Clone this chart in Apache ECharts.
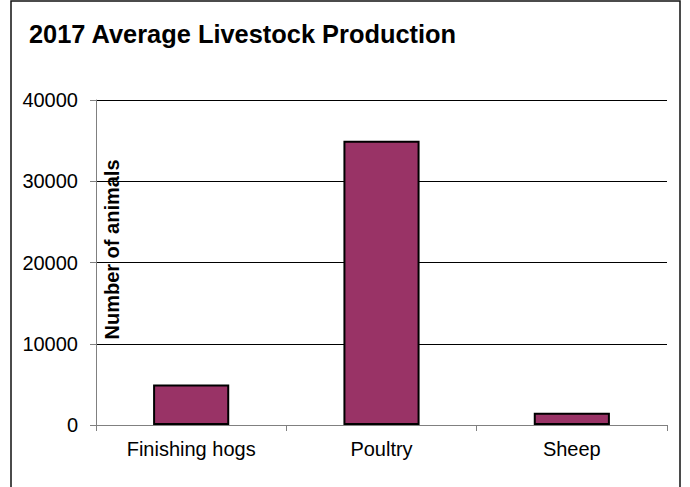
<!DOCTYPE html>
<html>
<head>
<meta charset="utf-8">
<script src="https://cdn.jsdelivr.net/npm/echarts@6/dist/echarts.min.js"></script>
<style>
html,body{margin:0;padding:0;background:#fff;}
#chart{width:690px;height:487px;}
</style>
</head>
<body>
<div id="chart"></div>
<script>
const titleText = '2017 Average Livestock Production';
const yAxisName = 'Number of animals';
const categories = ['Finishing hogs', 'Poultry', 'Sheep'];
const values = [5000, 35000, 1500];
const yTicks = [0, 10000, 20000, 30000, 40000];

const chart = echarts.init(document.getElementById('chart'), null, {renderer: 'svg'});
const font = '"Liberation Sans", Arial, sans-serif';
chart.setOption({
  backgroundColor: '#fff',
  animation: false,
  title: {
    text: titleText,
    left: 24, top: 16,
    textStyle: {fontFamily: font, fontSize: 25.4, fontWeight: 'bold', color: '#000'}
  },
  graphic: [{
    type: 'rect', z: -1, silent: true,
    shape: {x: 11, y: 1, width: 669, height: 520},
    style: {fill: 'none', stroke: '#111', lineWidth: 1.5}
  }],
  grid: {left: 96, right: 23, top: 100, bottom: 62, containLabel: false, outerBoundsMode: 'none'},
  xAxis: {
    type: 'category',
    data: categories,
    axisLine: {show: true, lineStyle: {color: '#808080', width: 1}},
    axisTick: {show: true, length: 6, lineStyle: {color: '#808080'}},
    axisLabel: {fontFamily: font, fontSize: 20, color: '#000', margin: 14}
  },
  yAxis: {
    type: 'value',
    min: yTicks[0], max: yTicks[yTicks.length - 1], interval: 10000,
    name: yAxisName,
    nameLocation: 'middle',
    nameGap: -26,
    nameRotate: 90,
    nameMoveOverlap: false,
    nameTextStyle: {fontFamily: font, fontSize: 20, fontWeight: 'bold', color: '#000', padding: [0, 0, 0, 26]},
    axisLine: {show: true, lineStyle: {color: '#808080', width: 1}},
    axisTick: {show: true, length: 6, lineStyle: {color: '#808080'}},
    axisLabel: {fontFamily: font, fontSize: 20, color: '#000', margin: 18, formatter: v => String(v)},
    splitLine: {show: true, lineStyle: {color: '#000', width: 1}}
  },
  series: [{
    type: 'bar',
    data: values,
    barWidth: '40%',
    itemStyle: {color: '#993366', borderColor: '#000', borderWidth: 2}
  }]
});
</script>
</body>
</html>
